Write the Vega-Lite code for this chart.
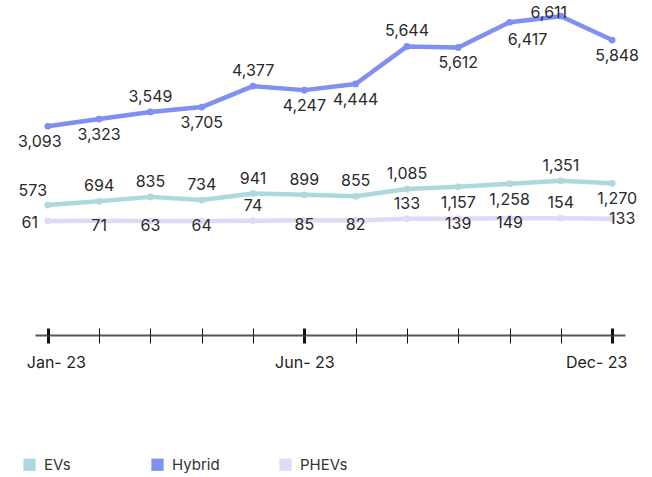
{
  "$schema": "https://vega.github.io/schema/vega-lite/v6.json",
  "width": 590,
  "height": 219,
  "autosize": "none",
  "padding": {"left": 35, "top": 4, "right": 27, "bottom": 254},
  "background": "white",
  "config": {
    "view": {"stroke": null},
    "font": "Inter",
    "text": {"font": "Inter", "fontSize": 16, "color": "#2a2a2a"}
  },
  "data": {
    "values": [
      {"type": "EVs", "month": "Jan-23", "value": 573},
      {"type": "EVs", "month": "Feb-23", "value": 694},
      {"type": "EVs", "month": "Mar-23", "value": 835},
      {"type": "EVs", "month": "Apr-23", "value": 734},
      {"type": "EVs", "month": "May-23", "value": 941},
      {"type": "EVs", "month": "Jun-23", "value": 899},
      {"type": "EVs", "month": "Jul-23", "value": 855},
      {"type": "EVs", "month": "Aug-23", "value": 1085},
      {"type": "EVs", "month": "Sep-23", "value": 1157},
      {"type": "EVs", "month": "Oct-23", "value": 1258},
      {"type": "EVs", "month": "Nov-23", "value": 1351},
      {"type": "EVs", "month": "Dec-23", "value": 1270},
      {"type": "Hybrid", "month": "Jan-23", "value": 3093},
      {"type": "Hybrid", "month": "Feb-23", "value": 3323},
      {"type": "Hybrid", "month": "Mar-23", "value": 3549},
      {"type": "Hybrid", "month": "Apr-23", "value": 3705},
      {"type": "Hybrid", "month": "May-23", "value": 4377},
      {"type": "Hybrid", "month": "Jun-23", "value": 4247},
      {"type": "Hybrid", "month": "Jul-23", "value": 4444},
      {"type": "Hybrid", "month": "Aug-23", "value": 5644},
      {"type": "Hybrid", "month": "Sep-23", "value": 5612},
      {"type": "Hybrid", "month": "Oct-23", "value": 6417},
      {"type": "Hybrid", "month": "Nov-23", "value": 6611},
      {"type": "Hybrid", "month": "Dec-23", "value": 5848},
      {"type": "PHEVs", "month": "Jan-23", "value": 61},
      {"type": "PHEVs", "month": "Feb-23", "value": 71},
      {"type": "PHEVs", "month": "Mar-23", "value": 63},
      {"type": "PHEVs", "month": "Apr-23", "value": 64},
      {"type": "PHEVs", "month": "May-23", "value": 74},
      {"type": "PHEVs", "month": "Jun-23", "value": 85},
      {"type": "PHEVs", "month": "Jul-23", "value": 82},
      {"type": "PHEVs", "month": "Aug-23", "value": 133},
      {"type": "PHEVs", "month": "Sep-23", "value": 139},
      {"type": "PHEVs", "month": "Oct-23", "value": 149},
      {"type": "PHEVs", "month": "Nov-23", "value": 154},
      {"type": "PHEVs", "month": "Dec-23", "value": 133}
    ]
  },
  "encoding": {
    "y": {"field": "value", "type": "quantitative", "scale": {"domain": [0, 7000], "nice": false, "zero": true}, "axis": null}
  },
  "layer": [
    {
      "mark": {"type": "line", "strokeWidth": 4.5, "strokeCap": "round", "strokeJoin": "round"},
      "encoding": {
        "x": {
          "field": "month", "type": "ordinal",
          "sort": ["Jan-23","Feb-23","Mar-23","Apr-23","May-23","Jun-23","Jul-23","Aug-23","Sep-23","Oct-23","Nov-23","Dec-23"],
          "scale": {"type": "point", "padding": 0.25},
          "axis": {
            "orient": "bottom", "offset": 112, "title": null, "grid": false, "labelAngle": 0,
            "domain": true, "domainColor": "#555555", "domainWidth": 2,
            "ticks": true, "tickSize": 8, "tickColor": "#111111",
            "tickWidth": {"condition": {"test": "indexof(['Jan-23','Jun-23','Dec-23'], datum.value) >= 0", "value": 3}, "value": 1},
            "labelExpr": "indexof(['Jan-23','Jun-23','Dec-23'], datum.value) >= 0 ? replace(datum.value, '-', '- ') : ''",
            "labelFont": "Inter", "labelFontSize": 16, "labelColor": "#222222", "labelPadding": 11,
            "labelOffset": {"condition": [{"test": "datum.value === 'Jan-23'", "value": 8}, {"test": "datum.value === 'Dec-23'", "value": -16}], "value": 0}
          }
        },
        "detail": {"field": "type"},
        "color": {"field": "type", "type": "nominal", "scale": {"domain": ["EVs", "Hybrid", "PHEVs"], "range": ["#acd8de", "#7f8ff2", "#e2d9f6"]},
          "legend": {
            "orient": "none", "legendX": -13, "legendY": 453, "direction": "horizontal", "title": null,
            "symbolType": "square", "symbolSize": 150, "symbolStrokeWidth": 0, "symbolFillColor": "#acd8de",
            "labelFont": "Inter", "labelFontSize": 15, "labelColor": "#333333", "labelOffset": 7,
            "columnPadding": 58, "gridAlign": "all",
            "values": ["EVs", "Hybrid", "PHEVs"]
          }
        }
      }
    },
    {
      "mark": {"type": "point", "filled": true, "size": 45, "opacity": 1},
      "encoding": {
        "x": {
          "field": "month", "type": "ordinal",
          "sort": ["Jan-23","Feb-23","Mar-23","Apr-23","May-23","Jun-23","Jul-23","Aug-23","Sep-23","Oct-23","Nov-23","Dec-23"],
          "axis": {
            "orient": "bottom", "offset": 112, "title": null, "grid": false,
            "domain": false, "labels": false,
            "ticks": true, "tickSize": -7, "tickColor": "#111111",
            "tickWidth": {"condition": {"test": "indexof(['Jan-23','Jun-23','Dec-23'], datum.value) >= 0", "value": 3}, "value": 1}
          }
        },
        "color": {"field": "type", "type": "nominal"}
      }
    },
    {
      "transform": [{"filter": "indexof(['Hybrid|Mar-23','Hybrid|May-23','Hybrid|Aug-23','EVs|Feb-23','EVs|Mar-23','EVs|Apr-23','EVs|May-23','EVs|Jun-23','EVs|Jul-23','EVs|Aug-23','EVs|Nov-23','PHEVs|May-23','PHEVs|Aug-23','PHEVs|Nov-23'], datum.type + '|' + datum.month) >= 0"}],
      "mark": {"type": "text", "dy": -15},
      "encoding": {
        "x": {"field": "month", "type": "ordinal", "sort": ["Jan-23","Feb-23","Mar-23","Apr-23","May-23","Jun-23","Jul-23","Aug-23","Sep-23","Oct-23","Nov-23","Dec-23"], "axis": null},
        "text": {"field": "value", "type": "quantitative", "format": ","}
      }
    },
    {
      "transform": [{"filter": "indexof(['Hybrid|Feb-23','Hybrid|Apr-23','Hybrid|Jun-23','Hybrid|Jul-23','Hybrid|Sep-23','EVs|Sep-23','EVs|Oct-23'], datum.type + '|' + datum.month) >= 0"}],
      "mark": {"type": "text", "dy": 16},
      "encoding": {
        "x": {"field": "month", "type": "ordinal", "sort": ["Jan-23","Feb-23","Mar-23","Apr-23","May-23","Jun-23","Jul-23","Aug-23","Sep-23","Oct-23","Nov-23","Dec-23"], "axis": null},
        "text": {"field": "value", "type": "quantitative", "format": ","}
      }
    },
    {
      "transform": [{"filter": "indexof(['PHEVs|Feb-23','PHEVs|Mar-23','PHEVs|Apr-23','PHEVs|Jun-23','PHEVs|Jul-23','PHEVs|Sep-23','PHEVs|Oct-23'], datum.type + '|' + datum.month) >= 0"}],
      "mark": {"type": "text", "dy": 5},
      "encoding": {
        "x": {"field": "month", "type": "ordinal", "sort": ["Jan-23","Feb-23","Mar-23","Apr-23","May-23","Jun-23","Jul-23","Aug-23","Sep-23","Oct-23","Nov-23","Dec-23"], "axis": null},
        "text": {"field": "value", "type": "quantitative", "format": ","}
      }
    },
    {
      "transform": [{"filter": "datum.type === 'Hybrid' && datum.month === 'Jan-23'"}],
      "mark": {"type": "text", "dx": -8, "dy": 16},
      "encoding": {
        "x": {"field": "month", "type": "ordinal", "sort": ["Jan-23","Feb-23","Mar-23","Apr-23","May-23","Jun-23","Jul-23","Aug-23","Sep-23","Oct-23","Nov-23","Dec-23"], "axis": null},
        "text": {"field": "value", "type": "quantitative", "format": ","}
      }
    },
    {
      "transform": [{"filter": "datum.type === 'EVs' && datum.month === 'Jan-23'"}],
      "mark": {"type": "text", "dx": -15, "dy": -14},
      "encoding": {
        "x": {"field": "month", "type": "ordinal", "sort": ["Jan-23","Feb-23","Mar-23","Apr-23","May-23","Jun-23","Jul-23","Aug-23","Sep-23","Oct-23","Nov-23","Dec-23"], "axis": null},
        "text": {"field": "value", "type": "quantitative", "format": ","}
      }
    },
    {
      "transform": [{"filter": "datum.type === 'PHEVs' && datum.month === 'Jan-23'"}],
      "mark": {"type": "text", "dx": -18, "dy": 2},
      "encoding": {
        "x": {"field": "month", "type": "ordinal", "sort": ["Jan-23","Feb-23","Mar-23","Apr-23","May-23","Jun-23","Jul-23","Aug-23","Sep-23","Oct-23","Nov-23","Dec-23"], "axis": null},
        "text": {"field": "value", "type": "quantitative", "format": ","}
      }
    },
    {
      "transform": [{"filter": "(datum.type === 'Hybrid' || datum.type === 'EVs') && datum.month === 'Dec-23'"}],
      "mark": {"type": "text", "dx": 5, "dy": 16},
      "encoding": {
        "x": {"field": "month", "type": "ordinal", "sort": ["Jan-23","Feb-23","Mar-23","Apr-23","May-23","Jun-23","Jul-23","Aug-23","Sep-23","Oct-23","Nov-23","Dec-23"], "axis": null},
        "text": {"field": "value", "type": "quantitative", "format": ","}
      }
    },
    {
      "transform": [{"filter": "datum.type === 'PHEVs' && datum.month === 'Dec-23'"}],
      "mark": {"type": "text", "dx": 10, "dy": 0},
      "encoding": {
        "x": {"field": "month", "type": "ordinal", "sort": ["Jan-23","Feb-23","Mar-23","Apr-23","May-23","Jun-23","Jul-23","Aug-23","Sep-23","Oct-23","Nov-23","Dec-23"], "axis": null},
        "text": {"field": "value", "type": "quantitative", "format": ","}
      }
    },
    {
      "transform": [{"filter": "datum.type === 'Hybrid' && datum.month === 'Oct-23'"}],
      "mark": {"type": "text", "dx": 18, "dy": 18},
      "encoding": {
        "x": {"field": "month", "type": "ordinal", "sort": ["Jan-23","Feb-23","Mar-23","Apr-23","May-23","Jun-23","Jul-23","Aug-23","Sep-23","Oct-23","Nov-23","Dec-23"], "axis": null},
        "text": {"field": "value", "type": "quantitative", "format": ","}
      }
    },
    {
      "transform": [{"filter": "datum.type === 'Hybrid' && datum.month === 'Nov-23'"}],
      "mark": {"type": "text", "dx": -12, "dy": -3},
      "encoding": {
        "x": {"field": "month", "type": "ordinal", "sort": ["Jan-23","Feb-23","Mar-23","Apr-23","May-23","Jun-23","Jul-23","Aug-23","Sep-23","Oct-23","Nov-23","Dec-23"], "axis": null},
        "text": {"field": "value", "type": "quantitative", "format": ","}
      }
    }
  ],
  "resolve": {"axis": {"x": "independent"}}
}
